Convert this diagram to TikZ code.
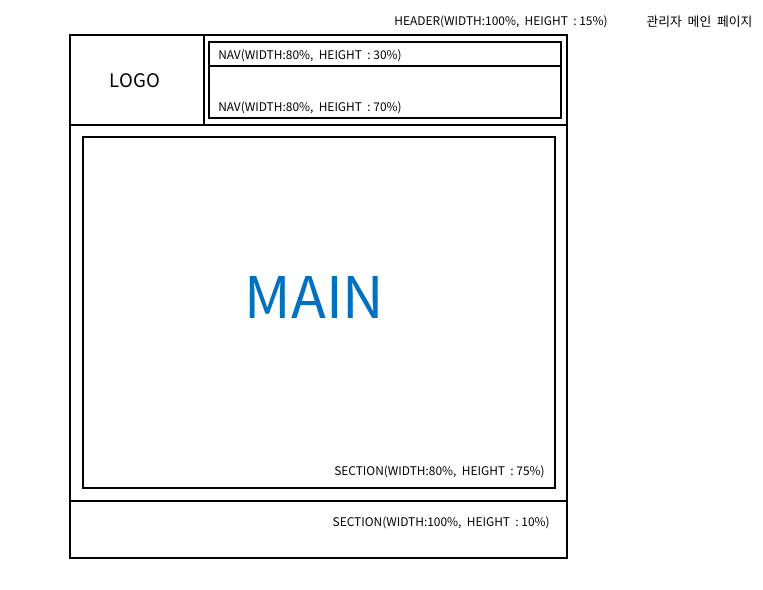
\documentclass[tikz,border=0pt]{standalone}
\usepackage{fontspec}
\setmainfont{Noto Sans CJK KR}
\definecolor{mainblue}{HTML}{0070C0}
\begin{document}
\begin{tikzpicture}[x=0.75pt,y=-0.75pt,
  box/.style={draw=black,line width=1.6pt},
  small/.style={font=\fontsize{8.95}{10}\selectfont,inner sep=0pt}]
\useasboundingbox (0,0) rectangle (763,589);
% outer frame
\draw[box] (70,35) rectangle (567,558);
\draw[box] (70,125) -- (567,125);
\draw[box] (70,501) -- (567,501);
\draw[box] (204,35) -- (204,125);
% nav
\draw[box] (209,42) rectangle (561,118);
\draw[box] (209,66) -- (561,66);
% main section
\draw[box] (83,137) rectangle (555,488);
% texts
\node[small] (hdr) at (501,22) {HEADER(WIDTH:100\%,\ \ HEIGHT\ \ : 15\%)};
\node[font=\fontsize{9.6}{11}\selectfont,inner sep=0pt] (title) at (699.5,22) {관리자\ \ 메인\ \ 페이지};
\node[small,anchor=west] (nav1) at (218,55.5) {NAV(WIDTH:80\%,\ \ HEIGHT\ \ : 30\%)};
\node[small,anchor=west] (nav2) at (218,107.5) {NAV(WIDTH:80\%,\ \ HEIGHT\ \ : 70\%)};
\node[font=\fontsize{14}{16}\selectfont,inner sep=0pt] (logo) at (135,80.5) {LOGO};
\node[font=\fontsize{43}{48}\selectfont,text=mainblue,inner sep=0pt] (main) at (314.5,297) {MAIN};
\node[small,anchor=east] (sec1) at (545,471.5) {SECTION(WIDTH:80\%,\ \ HEIGHT\ \ : 75\%)};
\node[small,anchor=east] (sec2) at (550,522.5) {SECTION(WIDTH:100\%,\ \ HEIGHT\ \ : 10\%)};
\end{tikzpicture}
\end{document}
